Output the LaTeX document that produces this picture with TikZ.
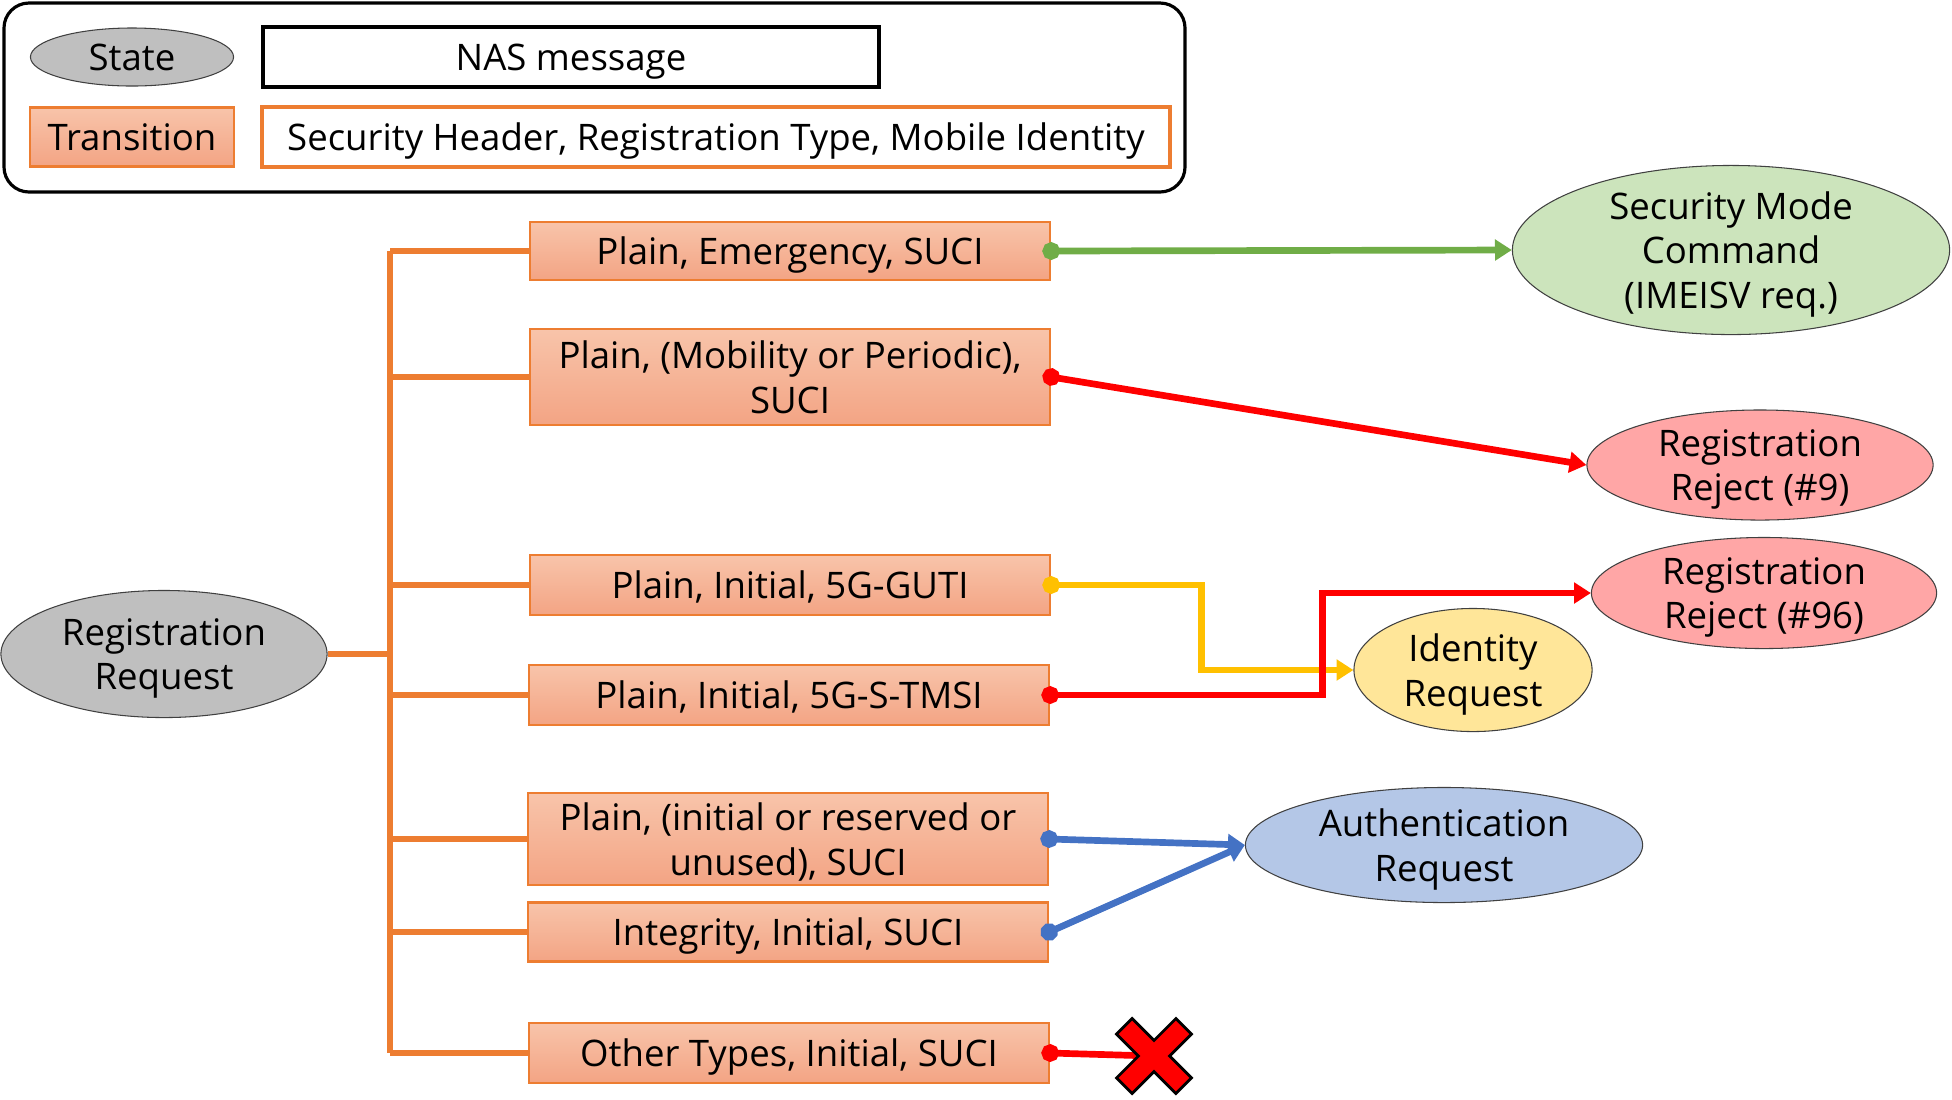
\documentclass[tikz,border=0pt]{standalone}
\usepackage{fontspec}
\setmainfont{Open Sans}
\usetikzlibrary{arrows.meta, shapes.geometric}

\definecolor{stateGrey}{RGB}{191,191,191}
\definecolor{trOrange}{RGB}{237,125,49}
\definecolor{trTop}{RGB}{248,196,170}
\definecolor{trBot}{RGB}{243,164,132}
\definecolor{okGreen}{RGB}{112,173,71}
\definecolor{okGreenFill}{RGB}{204,228,188}
\definecolor{rejRed}{RGB}{255,0,0}
\definecolor{rejFill}{RGB}{255,166,166}
\definecolor{idYellow}{RGB}{255,192,0}
\definecolor{idFill}{RGB}{255,230,153}
\definecolor{authBlue}{RGB}{68,114,196}
\definecolor{authFill}{RGB}{180,199,231}

\begin{document}
\begin{tikzpicture}[
  x=0.01cm, y=-0.01cm,
  font=\fontsize{10.4}{12.6}\selectfont,
  every node/.style={text depth=0pt},
  ell/.style={ellipse, draw=black!75, line width=0.3pt, inner sep=0pt, align=center},
  greyEll/.style={ell, fill=stateGrey},
  greenEll/.style={ell, fill=okGreenFill},
  redEll/.style={ell, fill=rejFill},
  yellowEll/.style={ell, fill=idFill},
  blueEll/.style={ell, fill=authFill},
  transBox/.style={rectangle, draw=trOrange, line width=0.6pt, top color=trTop, bottom color=trBot,
                   minimum width=5.2cm, minimum height=0.6cm, inner sep=0pt, align=center},
  trunk/.style={draw=trOrange, line width=1.8pt},
  link/.style={line width=1.9pt, shorten <=-2.5pt, {Circle[length=5pt]}-{Triangle[length=4.8pt, width=5.8pt]}},
  stopLink/.style={line width=1.9pt, shorten <=-2.5pt, {Circle[length=5pt]}-},
  xcross/.style={fill=rejRed, draw=black, line width=0.8pt}
]
\useasboundingbox (0,0) rectangle (1952,1099);

% legend
\draw[line width=0.9pt, rounded corners=0.25cm] (4,3) rectangle (1185,192);
\node[greyEll, minimum width=2.03cm, minimum height=0.58cm] (lgState) at (132,57) {State};
\node[draw, line width=1.2pt, minimum width=6.16cm, minimum height=0.6cm] (lgMsg) at (571,57) {NAS message};
\node[transBox, minimum width=2.03cm, minimum height=0.59cm] (lgTrans) at (132,137) {Transition};
\node[draw=trOrange, line width=1.2pt, minimum width=9.07cm, minimum height=0.6cm] (lgFields) at (716,137)
  {Security Header, Registration Type, Mobile Identity};

% states
\node[greyEll, minimum width=3.26cm, minimum height=1.27cm] (regReq) at (164,654) {Registration\\Request};
\node[greenEll, minimum width=4.37cm, minimum height=1.69cm] (smc) at (1731,250) {Security Mode\\Command\\(IMEISV req.)};
\node[redEll, minimum width=3.46cm, minimum height=1.10cm] (rej9) at (1760,465) {Registration\\Reject (\#9)};
\node[redEll, minimum width=3.45cm, minimum height=1.11cm] (rej96) at (1764,593) {Registration\\Reject (\#96)};
\node[yellowEll, minimum width=2.38cm, minimum height=1.23cm] (idReq) at (1473,670) {Identity\\Request};
\node[blueEll, minimum width=3.97cm, minimum height=1.15cm] (authReq) at (1444,845) {Authentication\\Request};

% transitions
\node[transBox, minimum height=0.58cm] (t1) at (790,251) {Plain, Emergency, SUCI};
\node[transBox, minimum height=0.96cm] (t2) at (790,377) {Plain, (Mobility or Periodic),\\SUCI};
\node[transBox] (t3) at (790,585) {Plain, Initial, 5G-GUTI};
\node[transBox] (t4) at (789,695) {Plain, Initial, 5G-S-TMSI};
\node[transBox, minimum height=0.92cm] (t5) at (788,839) {Plain, (initial or reserved or\\unused), SUCI};
\node[transBox, minimum height=0.59cm] (t6) at (788,932) {Integrity, Initial, SUCI};
\node[transBox] (t7) at (789,1053) {Other Types, Initial, SUCI};

% tree
\coordinate (trunkX) at (390,0);
\draw[trunk] (t1.west -| trunkX) -- (t7.west -| trunkX);
\draw[trunk] (regReq.east) -- (regReq.east -| trunkX);
\foreach \i in {1,...,7} \draw[trunk] (t\i.west -| trunkX) -- (t\i.west);

% outcomes
\draw[link, okGreen] (t1.east) -- (smc.west);
\draw[link, rejRed] (t2.east) -- (rej9.west);
\draw[link, idYellow] (t3.east) -- ++(150,0) |- (idReq.west);
\draw[link, rejRed] (t4.east) -- ++(272,0) |- (rej96.west);
\draw[link, authBlue] (t5.east) -- (authReq.west);
\draw[link, authBlue] (t6.east) -- (authReq.west);
\coordinate (xmark) at (1154,1056);
\draw[stopLink, rejRed] (t7.east) -- (xmark);
\filldraw[xcross, shift={(xmark)}, rotate=45]
  (-11,42) -- (11,42) -- (11,11) -- (42,11) -- (42,-11) -- (11,-11) -- (11,-42)
  -- (-11,-42) -- (-11,-11) -- (-42,-11) -- (-42,11) -- (-11,11) -- cycle;
\end{tikzpicture}
\end{document}
